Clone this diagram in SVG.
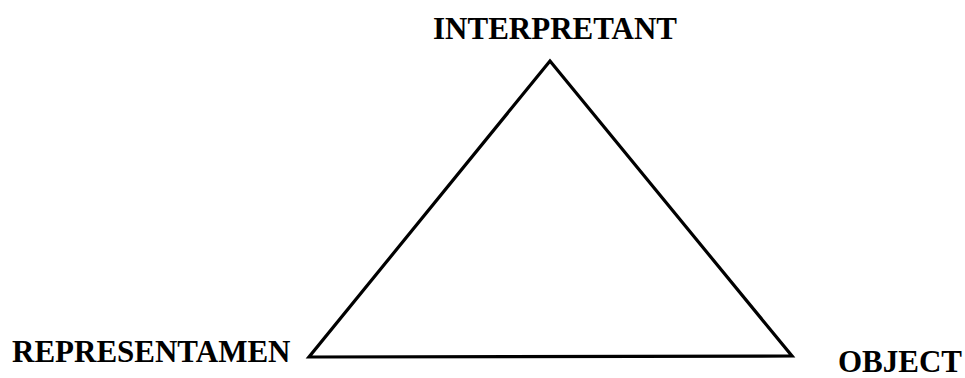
<svg xmlns="http://www.w3.org/2000/svg" width="965" height="378" viewBox="0 0 965 378">
<style>
.lbl{font-family:"Liberation Serif","Times New Roman",serif;font-weight:bold;font-size:31px;fill:#000}
.edge{fill:none;stroke:#000;stroke-width:3.2;stroke-linejoin:miter}
</style>
<rect width="965" height="378" fill="#fff"/>
<g id="connectors">
<path class="edge" d="M550,61 L309,357 L792,356 Z"/>
</g>
<g id="interpretant"><text class="lbl" x="433" y="39">INTERPRETANT</text></g>
<g id="representamen"><text class="lbl" x="12" y="362">REPRESENTAMEN</text></g>
<g id="object"><text class="lbl" x="838" y="372">OBJECT</text></g>
</svg>
